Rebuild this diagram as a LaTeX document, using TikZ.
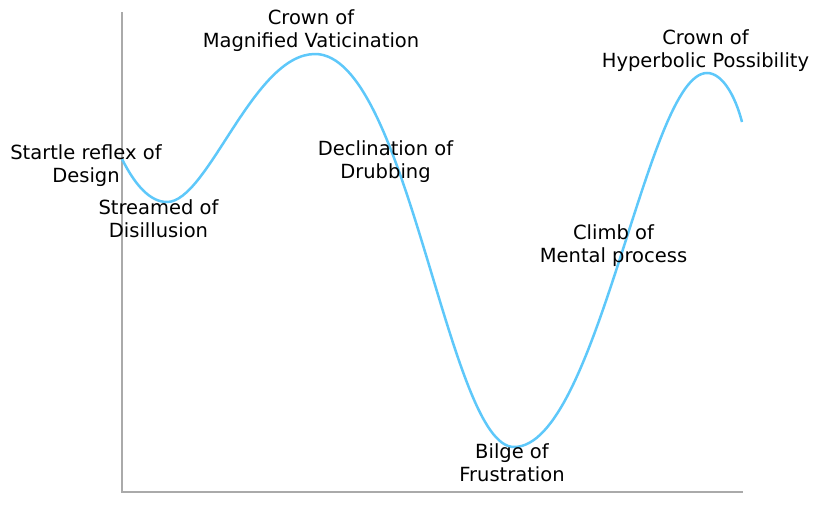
\documentclass[tikz,border=0pt]{standalone}
\usepackage{fontspec}
\setmainfont{DejaVu Sans}
\definecolor{curveblue}{RGB}{94,200,250}
\definecolor{axisgray}{RGB}{170,170,170}
\tikzset{
  lbl/.style={align=center,inner sep=0pt,font=\fontsize{19.5}{23.2}\selectfont},
}
\begin{document}
\begin{tikzpicture}[x=1pt,y=-1pt]
    \useasboundingbox (0,0) rectangle (819,512);
    \coordinate (top) at (122,12);
    \coordinate (O) at (122,492);
    \coordinate (right) at (743,492);
    \draw[axisgray,line width=1.2pt] (top)--(O)--(right);
    % the curve: start, dip, crown, bilge, crown, end
    \coordinate (start) at (122,159);
    \coordinate (dip) at (167,202);
    \coordinate (peakA) at (315,54);
    \coordinate (low) at (514,447);
    \coordinate (peakB) at (707,73);
    \coordinate (stop) at (742,122);
    \draw[curveblue,line width=2.5pt] (start) .. controls (135,185) and (150,202) .. (dip)
        .. controls (208,202) and (253,54) .. (peakA)
        .. controls (408,54) and (448,447) .. (low)
        .. controls (598,447) and (647,73) .. (peakB)
        .. controls (722,73) and (735,95) .. (stop);
    \node[lbl] (startle) at (86,165.5) {Startle reflex of\\Design};
    \node[lbl] (streamed) at (158.5,218.5) {Streamed of\\Disillusion};
    \node[lbl] (crownA) at (311,30.5) {Crown of\\Magnified Vaticination};
    \node[lbl] (declination) at (385.5,161.5) {Declination of\\Drubbing};
    \node[lbl] (bilge) at (512,463) {Bilge of\\Frustration};
    \node[lbl] (climb) at (613.5,245.5) {Climb of\\Mental process};
    \node[lbl] (crownB) at (705.5,50.5) {Crown of\\Hyperbolic Possibility};
\end{tikzpicture}
\end{document}
